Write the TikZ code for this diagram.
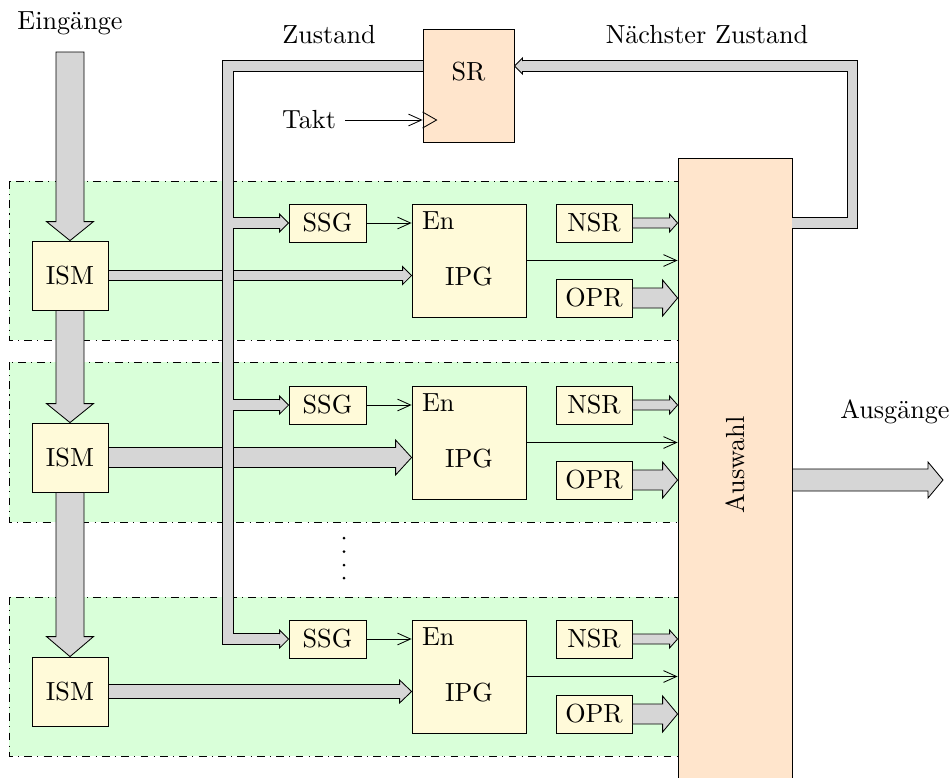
\documentclass[tikz,border=0pt]{standalone}
\usetikzlibrary{arrows.meta,calc}

% one drawing unit
\newcommand\pxu{0.382pt}

\definecolor{rowgreen}{RGB}{217,255,217}
\definecolor{boxyellow}{RGB}{255,250,217}
\definecolor{peach}{RGB}{255,229,204}
\definecolor{busgray}{RGB}{214,214,214}

\tikzset{
  blk/.style={draw, fill=boxyellow, inner sep=0pt},
  ismbox/.style={blk, minimum width=76*\pxu, minimum height=69*\pxu},
  smallbox/.style={blk, minimum width=77*\pxu, minimum height=38*\pxu},
  ipgbox/.style={blk, minimum width=114*\pxu, minimum height=113*\pxu},
  regbox/.style={draw, fill=peach, inner sep=0pt},
  rowbox/.style={draw, dash pattern=on 3pt off 2pt on 0.4pt off 2pt, fill=rowgreen},
  fatarrow/.style={draw, fill=busgray, line join=miter},
  bus/.style={draw=busgray, line width=3.45pt, line join=miter,
              preaction={draw=black, line width=4.25pt, line join=miter}},
  sig/.style={-{Straight Barb[length=5pt,width=4.5pt]}},
}

% wide arrow pointing right: start, end, shaft half width, head half width, head length
\newcommand\fatright[5]{%
  \filldraw[fatarrow] let \p1=(#1), \p2=(#2) in
    (\x1,{\y1+#3*\pxu}) -- ({\x2-#5*\pxu},{\y1+#3*\pxu}) -- ({\x2-#5*\pxu},{\y1+#4*\pxu})
    -- (\x2,\y1) -- ({\x2-#5*\pxu},{\y1-#4*\pxu}) -- ({\x2-#5*\pxu},{\y1-#3*\pxu})
    -- (\x1,{\y1-#3*\pxu}) -- cycle;}
% wide arrow pointing down
\newcommand\fatdown[5]{%
  \filldraw[fatarrow] let \p1=(#1), \p2=(#2) in
    ({\x1-#3*\pxu},\y1) -- ({\x1-#3*\pxu},{\y2+#5*\pxu}) -- ({\x1-#4*\pxu},{\y2+#5*\pxu})
    -- (\x1,\y2) -- ({\x1+#4*\pxu},{\y2+#5*\pxu}) -- ({\x1+#3*\pxu},{\y2+#5*\pxu})
    -- ({\x1+#3*\pxu},\y1) -- cycle;}
% arrow heads that close a bus: tip, shaft half width, head half width, head length
\newcommand\headright[4]{%
  \filldraw[fatarrow] let \p1=(#1) in
    ({\x1-#4*\pxu},{\y1+#2*\pxu}) -- ({\x1-#4*\pxu},{\y1+#3*\pxu}) -- (\x1,\y1)
    -- ({\x1-#4*\pxu},{\y1-#3*\pxu}) -- ({\x1-#4*\pxu},{\y1-#2*\pxu});}
\newcommand\headleft[4]{%
  \filldraw[fatarrow] let \p1=(#1) in
    ({\x1+#4*\pxu},{\y1+#2*\pxu}) -- ({\x1+#4*\pxu},{\y1+#3*\pxu}) -- (\x1,\y1)
    -- ({\x1+#4*\pxu},{\y1-#3*\pxu}) -- ({\x1+#4*\pxu},{\y1-#2*\pxu});}

\begin{document}
\begin{tikzpicture}[x=0.382pt, y=-0.382pt, line width=0.32pt]
\useasboundingbox (0,0) rectangle (952,777);

% the three processing rows
\foreach \t/\b in {181/340, 362/522, 597/756} {
  \draw[rowbox] (9,\t) rectangle (700,\b);
}

% selector and state register
\node[regbox, minimum width=114*\pxu, minimum height=622*\pxu] (Auswahl) at (735,469) {};
\node[rotate=90] (lblAus) at (735,465) {Auswahl};
\node[regbox, minimum width=91*\pxu, minimum height=113*\pxu] (SR) at (468.5,85.5) {};
\node[anchor=base] (lblSR) at ($(SR.north)+(0,52)$) {SR};

% blocks of each row
\foreach \i/\o in {1/0, 2/182, 3/416} {
  \node[ismbox] (ISM\i) at (70,275.5+\o) {ISM};
  \node[smallbox] (SSG\i) at (327.5,223+\o) {SSG};
  \node[ipgbox] (IPG\i) at (469,260.5+\o) {};
  \node[anchor=base west, inner sep=0pt] (En\i) at ($(IPG\i.north west)+(10,26)$) {En};
  \node[anchor=base] (IPGt\i) at ($(IPG\i.north)+(0,82)$) {IPG};
  \node[smallbox, minimum width=76*\pxu] (NSR\i) at (594,223+\o) {NSR};
  \node[smallbox, minimum width=76*\pxu] (OPR\i) at (594,298+\o) {OPR};
}

% texts
\node[anchor=base] (lblIn) at (70,29) {Eingänge};
\node[anchor=base] (lblZ) at (329,43) {Zustand};
\node[anchor=base] (lblNZ) at (707,43) {Nächster Zustand};
\node[anchor=base] (lblOut) at (895,418) {Ausgänge};
\node (takt) at (309,120) {Takt};

% input chain
\coordinate (inS) at (70,52);
\fatdown{inS}{ISM1.north}{14}{23.5}{19}
\fatdown{ISM1.south}{ISM2.north}{14}{23.5}{19}
\fatdown{ISM2.south}{ISM3.north}{14}{23.5}{20}

% per-row connections
\foreach \i/\s/\h/\l in {1/5/9/9, 2/10/17.5/16, 3/7/11.5/12} {
  \fatright{ISM\i.east}{IPG\i.west}{\s}{\h}{\l}
  \draw[sig] (SSG\i.east) -- (IPG\i.west |- SSG\i.east);
  \draw[sig] (IPG\i.east) -- (Auswahl.west |- IPG\i.east);
  \fatright{NSR\i.east}{Auswahl.west}{5}{9}{8}
  \fatright{OPR\i.east}{Auswahl.west}{10}{18}{15}
}

% outputs
\coordinate (outS) at (Auswahl.east |- OPR2.east);
\coordinate (outE) at (943,480);
\fatright{outS}{outE}{11}{18}{15}

% current state bus
\coordinate (busY) at (0,66);
\coordinate (busX) at (228,0);
\coordinate (nsX) at (852.5,0);
\coordinate (srOut) at (SR.west |- busY);
\coordinate (srIn) at (SR.east |- busY);
\draw[bus] (srOut) -| (busX |- SSG3.west) -- ($(SSG3.west)+(-9,0)$)
  (busX |- SSG1.west) -- ($(SSG1.west)+(-9,0)$)
  (busX |- SSG2.west) -- ($(SSG2.west)+(-9,0)$);
\foreach \i in {1,2,3} {
  \headright{SSG\i.west}{5}{9}{9}
}

% next state bus
\draw[bus] (Auswahl.east |- NSR1.east) -| (nsX |- busY) -- ($(srIn)+(8,0)$);
\headleft{srIn}{5}{8}{8}

% clock input
\coordinate (clk) at (SR.west |- takt);
\draw[sig] (takt.east) -- (clk);
\draw ($(clk)+(0,-8)$) -- ($(clk)+(14,0)$) -- ($(clk)+(0,8)$);

% further rows omitted
\foreach \y in {538,551.5,565,578} {
  \fill (344,\y) circle (1.5);
}
\end{tikzpicture}
\end{document}
